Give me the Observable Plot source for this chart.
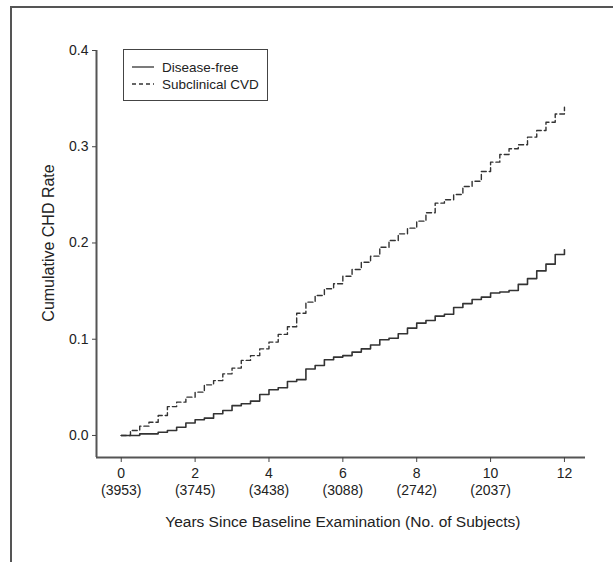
<!DOCTYPE html>
<html><head><meta charset="utf-8">
<script src="https://cdn.jsdelivr.net/npm/d3@7"></script>
<script src="https://cdn.jsdelivr.net/npm/@observablehq/plot@0.6"></script>
<style>
body{margin:0;background:#fff;}
#wrap{position:relative;width:613px;height:562px;overflow:hidden;}
#border{position:absolute;left:10px;top:6px;right:-4px;bottom:-4px;border-top:2px solid #555;border-left:2px solid #555;pointer-events:none;}
#legend{position:absolute;left:123px;top:49px;width:145px;height:52px;border:1px solid #444;box-sizing:border-box;font:13.5px "Liberation Sans",Arial,sans-serif;color:#222;}
#legend .row{position:absolute;left:8px;height:16px;display:flex;align-items:center;white-space:nowrap;}
#legend svg{margin-right:8px;}
</style></head>
<body><div id="wrap"><div id="chart"></div><div id="border"></div>
<div id="legend"></div></div>
<script>
const years = [0,0.25,0.5,0.75,1,1.25,1.5,1.75,2,2.25,2.5,2.75,3,3.25,3.5,3.75,4,4.25,4.5,4.75,5,5.25,5.5,5.75,6,6.25,6.5,6.75,7,7.25,7.5,7.75,8,8.25,8.5,8.75,9,9.25,9.5,9.75,10,10.25,10.5,10.75,11,11.25,11.5,11.75,12];
const diseaseFree = [0,0,0.0017,0.0017,0.0034,0.0052,0.0086,0.013,0.0163,0.018,0.0225,0.026,0.031,0.033,0.0357,0.0426,0.0475,0.0496,0.056,0.058,0.069,0.0727,0.0786,0.0814,0.083,0.0866,0.090,0.094,0.0995,0.101,0.1057,0.1115,0.1167,0.1195,0.124,0.126,0.133,0.137,0.1413,0.1437,0.148,0.149,0.1506,0.157,0.163,0.171,0.178,0.188,0.193];
const subclinicalCVD = [0,0.0052,0.0097,0.0138,0.0208,0.030,0.0346,0.0398,0.045,0.0526,0.057,0.064,0.070,0.078,0.083,0.090,0.097,0.105,0.113,0.127,0.1385,0.1455,0.1524,0.1576,0.1655,0.1725,0.180,0.1863,0.1956,0.2026,0.2095,0.2154,0.2227,0.2314,0.2414,0.2449,0.2504,0.2587,0.2642,0.2743,0.284,0.292,0.2979,0.302,0.310,0.3169,0.3255,0.334,0.341];
const seriesNames = ["Disease-free","Subclinical CVD"];
const xTicks = [0,2,4,6,8,10,12];
const subjectCounts = ["3953","3745","3438","3088","2742","2037",null];
const yTicks = [0,0.1,0.2,0.3,0.4];
const xTitle = "Years Since Baseline Examination (No. of Subjects)";
const yTitle = "Cumulative CHD Rate";

const xDomain = [-0.67, 12.57];
const yDomain = [-0.0229, 0.4];
const font = '"Liberation Sans", Arial, sans-serif';
const ink = "#333";

const dfData = years.map((t,i)=>({t, v: diseaseFree[i]}));
const scData = years.map((t,i)=>({t, v: subclinicalCVD[i]}));

const chart = Plot.plot({
  width: 613, height: 562,
  marginLeft: 96, marginTop: 50, marginRight: 28, marginBottom: 105,
  x: {domain: xDomain},
  y: {domain: yDomain},
  style: {fontFamily: font, fontSize: "14px", color: "#222", background: "transparent"},
  marks: [
    Plot.ruleX([xDomain[0]], {y1: yDomain[0], y2: yDomain[1], stroke: "#555", strokeWidth: 2}),
    Plot.ruleY([yDomain[0]], {x1: xDomain[0], x2: xDomain[1], stroke: "#555", strokeWidth: 2}),
    Plot.axisY(yTicks, {tickSize: 4, tickPadding: 4, stroke: "#444", tickFormat: d3.format(".1f"), label: null, fontSize: 14}),
    Plot.axisX(xTicks, {tickSize: 5, tickPadding: 3, stroke: "#444", label: null, fontSize: 14, lineHeight: 1.25,
      tickFormat: d => { const c = subjectCounts[xTicks.indexOf(d)]; return c ? `${d}\n(${c})` : `${d}`; }}),
    Plot.line(dfData, {x: "t", y: "v", curve: "step-after", stroke: ink, strokeWidth: 1.6}),
    Plot.line(scData, {x: "t", y: "v", curve: "step-after", stroke: ink, strokeWidth: 1.4, strokeDasharray: "5,3"}),
    Plot.text([yTitle], {text: d => d, y: () => yTicks[2], frameAnchor: "left", textAnchor: "middle", lineAnchor: "middle", dx: -48, rotate: -90, fontSize: 16, fill: "#222"}),
    Plot.text([xTitle], {text: d => d, x: () => xTicks[3], frameAnchor: "bottom", textAnchor: "middle", lineAnchor: "middle", dy: 65, fontSize: 15.5, fill: "#222"})
  ]
});
document.getElementById("chart").appendChild(chart);

const legend = document.getElementById("legend");
seriesNames.forEach((name, i) => {
  const row = document.createElement("div");
  row.className = "row";
  row.style.top = (i === 0 ? 9 : 26) + "px";
  const dash = i === 0 ? "" : ' stroke-dasharray="4,3"';
  row.innerHTML = `<svg width="22" height="4"><line x1="0" x2="22" y1="2" y2="2" stroke="${ink}" stroke-width="1.3"${dash}/></svg><span>${name}</span>`;
  legend.appendChild(row);
});
</script></body></html>
